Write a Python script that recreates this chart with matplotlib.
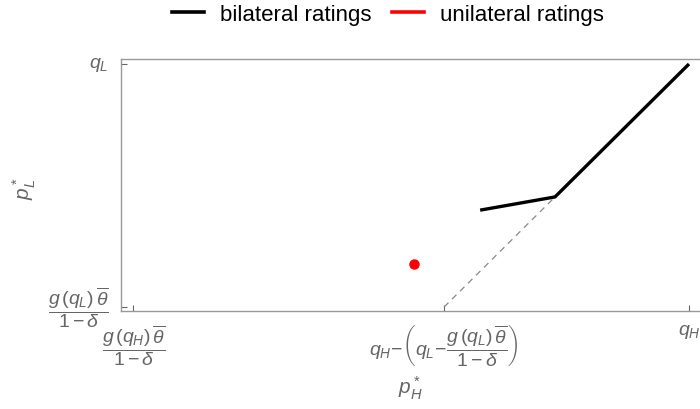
import matplotlib
matplotlib.use('Agg')
import matplotlib.pyplot as plt
from matplotlib.lines import Line2D

plt.rcParams['font.family'] = ['Liberation Sans', 'DejaVu Sans']
plt.rcParams['mathtext.fontset'] = 'custom'
plt.rcParams['mathtext.rm'] = 'Liberation Sans'
plt.rcParams['mathtext.it'] = 'Liberation Sans:italic'
plt.rcParams['mathtext.bf'] = 'Liberation Sans:bold'

# bilateral ratings curve (p_H*, p_L*)
bilateral_x = [1.318, 1.5625, 2.0]
bilateral_y = [0.519, 0.5625, 1.0]
# unilateral ratings point
unilateral_x = [1.102]
unilateral_y = [0.342]
# reference 45-degree line
ref_x = [1.2, 1.5625]
ref_y = [0.2, 0.5625]

x_ticks = [0.185, 1.2, 2.0]
x_labels = [r'$\dfrac{g\,(q_H)\,\overline{\theta}}{1-\delta}$',
            r'$q_H\!-\!\left(q_L\!-\!\dfrac{g\,(q_L)\,\overline{\theta}}{1-\delta}\right)$',
            r'$q_H$']
y_ticks = [0.2, 1.0]
y_labels = [r'$\dfrac{g\,(q_L)\,\overline{\theta}}{1-\delta}$', r'$q_L$']

gray = '#666666'

fig = plt.figure(figsize=(7, 4.1), dpi=100)
ax = fig.add_axes([121 / 700, 1 - 312 / 410, 1 - 121 / 700, (312 - 60) / 410])

ax.plot(ref_x, ref_y, color='#888888', lw=0.9, linestyle=(0, (5, 4)))
ax.plot(bilateral_x, bilateral_y, color='black', lw=2.4, solid_capstyle='butt')
ax.plot(unilateral_x, unilateral_y, 'o', color='#ff0000', markersize=6.5)

ax.set_xlim(0.145, 2.036)
ax.set_ylim(0.187, 1.0165)

ax.set_xticks(x_ticks)
ax.set_xticklabels(x_labels)
ax.set_yticks(y_ticks)
ax.set_yticklabels(y_labels, va='center')
ax.tick_params(direction='in', length=4, width=0.8, color=gray,
               labelcolor=gray, labelsize=14)
ax.tick_params(axis='x', pad=8)
ax.tick_params(axis='y', pad=9)

for side in ['left', 'bottom', 'top']:
    ax.spines[side].set_color('#999999')
    ax.spines[side].set_linewidth(1.0)
ax.spines['right'].set_visible(False)

ax.set_xlabel(r'$p_H^*$', color=gray, fontsize=15)
ax.set_ylabel(r'$p_L^*$', color=gray, fontsize=15)
ax.xaxis.set_label_coords(0.5, -(375 - 312) / 252)
ax.yaxis.set_label_coords(-(121 - 38) / 579, 0.49)

handles = [Line2D([], [], color='black', lw=2.6),
           Line2D([], [], color='#ff0000', lw=2.6)]
fig.legend(handles, ['bilateral ratings', 'unilateral ratings'],
           loc='center', bbox_to_anchor=(388 / 700, 1 - 15 / 410), ncol=2,
           frameon=False, fontsize=16, handlelength=1.44,
           columnspacing=0.9, handletextpad=0.72)

fig.savefig('out.png', dpi=100)
